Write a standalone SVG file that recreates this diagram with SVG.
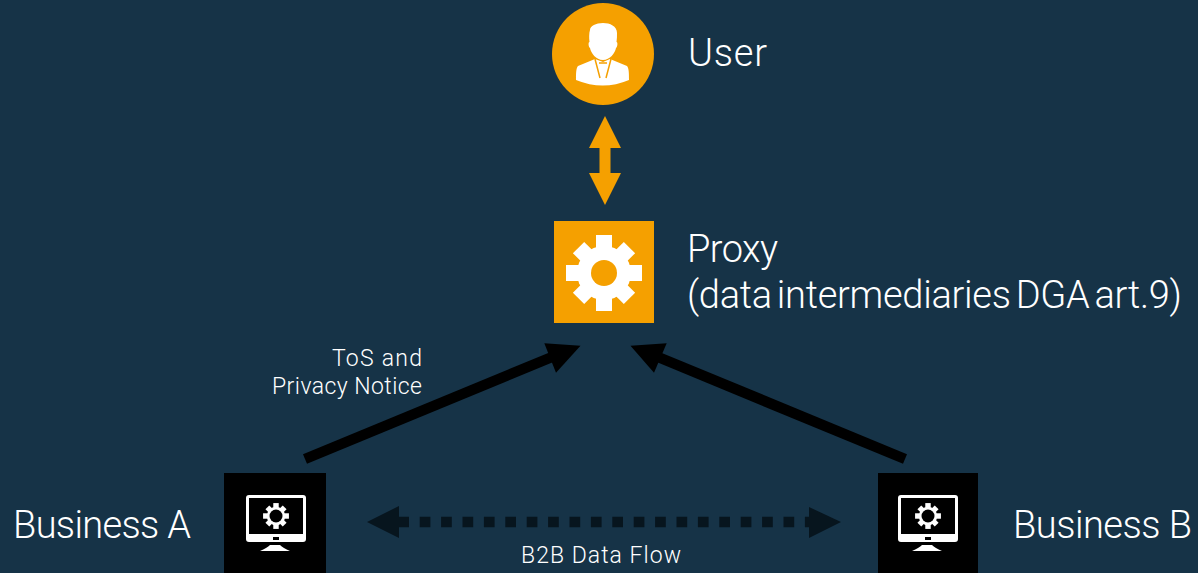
<svg xmlns="http://www.w3.org/2000/svg" width="1198" height="573" viewBox="0 0 1198 573">
<style>
text{font-family:"Roboto","Inter","Liberation Sans",sans-serif;font-weight:300;fill:#fff}
.big{font-size:38px}
.tight{word-spacing:-4px}
.small{font-size:23px}
.orange{fill:#f5a000}
.white{fill:#fff}
.black{fill:#000}
.thick{stroke:#000;stroke-width:10.500;fill:none}
</style>
<defs>
<g id="gear8">
<circle r="27"/>
<rect x="-8" y="-38" width="16" height="76"/>
<rect x="-38" y="-8" width="76" height="16"/>
<rect x="-8" y="-36" width="16" height="72" transform="rotate(45)"/>
<rect x="-8" y="-36" width="16" height="72" transform="rotate(-45)"/>
</g>
<g id="monitor">
<rect x="-30" y="-24" width="60" height="47" rx="3" class="white"/>
<rect x="-27" y="-21" width="54" height="36" class="black"/>
<rect x="-3" y="18" width="6" height="3" class="black"/>
<path d="M-16 32Q-9 29-6 26H4Q7 29 14 32Z" class="white"/>
<use href="#gear8" transform="translate(0,-3) scale(.34)" class="white"/>
<circle cx="0" cy="-3" r="6.500" class="black"/>
</g>
</defs>
<rect width="1198" height="573" fill="#163347"/>

<g id="connectors">
<path class="orange" d="M605 116L621 148H610.500V173H621L605 205 589 173H599.500V148H589Z"/>
<g id="arrow-a">
<line class="thick" x1="305" y1="459" x2="552" y2="357"/>
<path class="black" d="M580.500 345.700L556 372.700 544.300 343.300Z"/>
</g>
<g id="arrow-b">
<line class="thick" x1="905" y1="459" x2="658" y2="357"/>
<path class="black" d="M630.500 345.700L666.700 343.300 654 372.700Z"/>
</g>
<g id="b2b-flow" fill="#07151e">
<path d="M367 522L399 506V538Z"/>
<path d="M841 522L809 507V538Z"/>
<line x1="399" y1="522" x2="809" y2="522" stroke="#07151e" stroke-width="10.500" stroke-dasharray="10.700 10.700" stroke-dashoffset="0.700"/>
</g>
</g>

<g id="user">
<circle class="orange" cx="603" cy="54" r="51"/>
<path class="white" d="M590 30C590 26 596 23 603 23C610 23 617 26 617 33C617 36 617 39 616.500 42C618 42 617.500 47 616 48C615 53 610 60 603 60C596 60 591 53 590 48C588.500 47 588 42 589.500 42C589 38 589 33 590 30Z"/>
<path class="white" d="M595 59L578 66C576 68 576 74 576 80Q603 91 629 80C629 74 629 68 627 66L610 59 603 62Z"/>
<path d="M595 59L600 78M611 59L606 78M599 63H607" fill="none" stroke="#f5a000" stroke-width="1.500"/>
<text class="big" x="688" y="66" textLength="79" lengthAdjust="spacing">User</text>
</g>

<g id="proxy">
<rect class="orange" x="554" y="221" width="100" height="102"/>
<use href="#gear8" transform="translate(604,273)" class="white"/>
<circle class="orange" cx="604" cy="273" r="13"/>
<text class="big" x="687" y="262" textLength="91" lengthAdjust="spacing">Proxy</text>
<text class="big tight" x="687" y="308" textLength="495" lengthAdjust="spacing">(data intermediaries DGA art.9)</text>
</g>

<g id="business-a">
<rect class="black" x="224" y="473" width="102" height="100"/>
<use href="#monitor" transform="translate(276,519)"/>
<text class="big" x="13" y="538" textLength="178" lengthAdjust="spacing">Business A</text>
</g>

<g id="business-b">
<rect class="black" x="878" y="473" width="100" height="100"/>
<use href="#monitor" transform="translate(928,519)"/>
<text class="big" x="1013" y="538" textLength="179" lengthAdjust="spacing">Business B</text>
</g>

<g id="labels">
<text class="small" x="332" y="366" textLength="90" lengthAdjust="spacing">ToS and</text>
<text class="small" x="272" y="394" textLength="150" lengthAdjust="spacing">Privacy Notice</text>
<text class="small" x="521" y="563" textLength="160" lengthAdjust="spacing">B2B Data Flow</text>
</g>
</svg>
